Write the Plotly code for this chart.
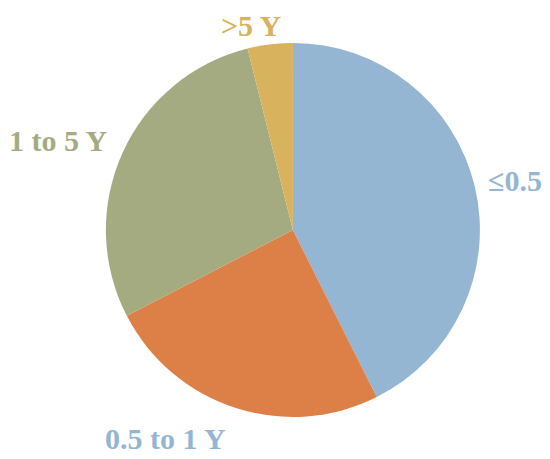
import plotly.graph_objects as go

# Share of records by age group
labels = ["≤0.5", "0.5 to 1 Y", "1 to 5 Y", ">5 Y"]
values = [42.6, 24.8, 28.7, 3.9]
colors = ["#94B6D2", "#DD8047", "#A5AB81", "#D8B25C"]
label_colors = ["#94B6D2", "#94B6D2", "#A5AB81", "#D8B25C"]

# where each category label sits (paper coords), placed by hand like the original
label_pos = [(0.922, 0.625), (0.2855, 0.063), (0.091, 0.712), (0.442, 0.961)]

fig = go.Figure()
fig.add_trace(go.Pie(
    labels=labels, values=values,
    sort=False, direction="clockwise", rotation=0,
    marker=dict(colors=colors, line=dict(width=0)),
    textinfo="none",
    showlegend=False, hoverinfo="label+percent",
    domain=dict(x=[0.178, 0.858], y=[0.109, 0.924]),
))
for text, color, (x, y) in zip(labels, label_colors, label_pos):
    fig.add_annotation(
        x=x, y=y, xref="paper", yref="paper",
        xanchor="center", yanchor="middle",
        text=f"<b>{text}</b>", showarrow=False,
        font=dict(color=color, size=30, family="Liberation Serif"),
    )
fig.update_layout(
    width=550, height=459,
    margin=dict(l=0, r=0, t=0, b=0),
    paper_bgcolor="white",
    showlegend=False,
)
fig.write_html("out.html")
